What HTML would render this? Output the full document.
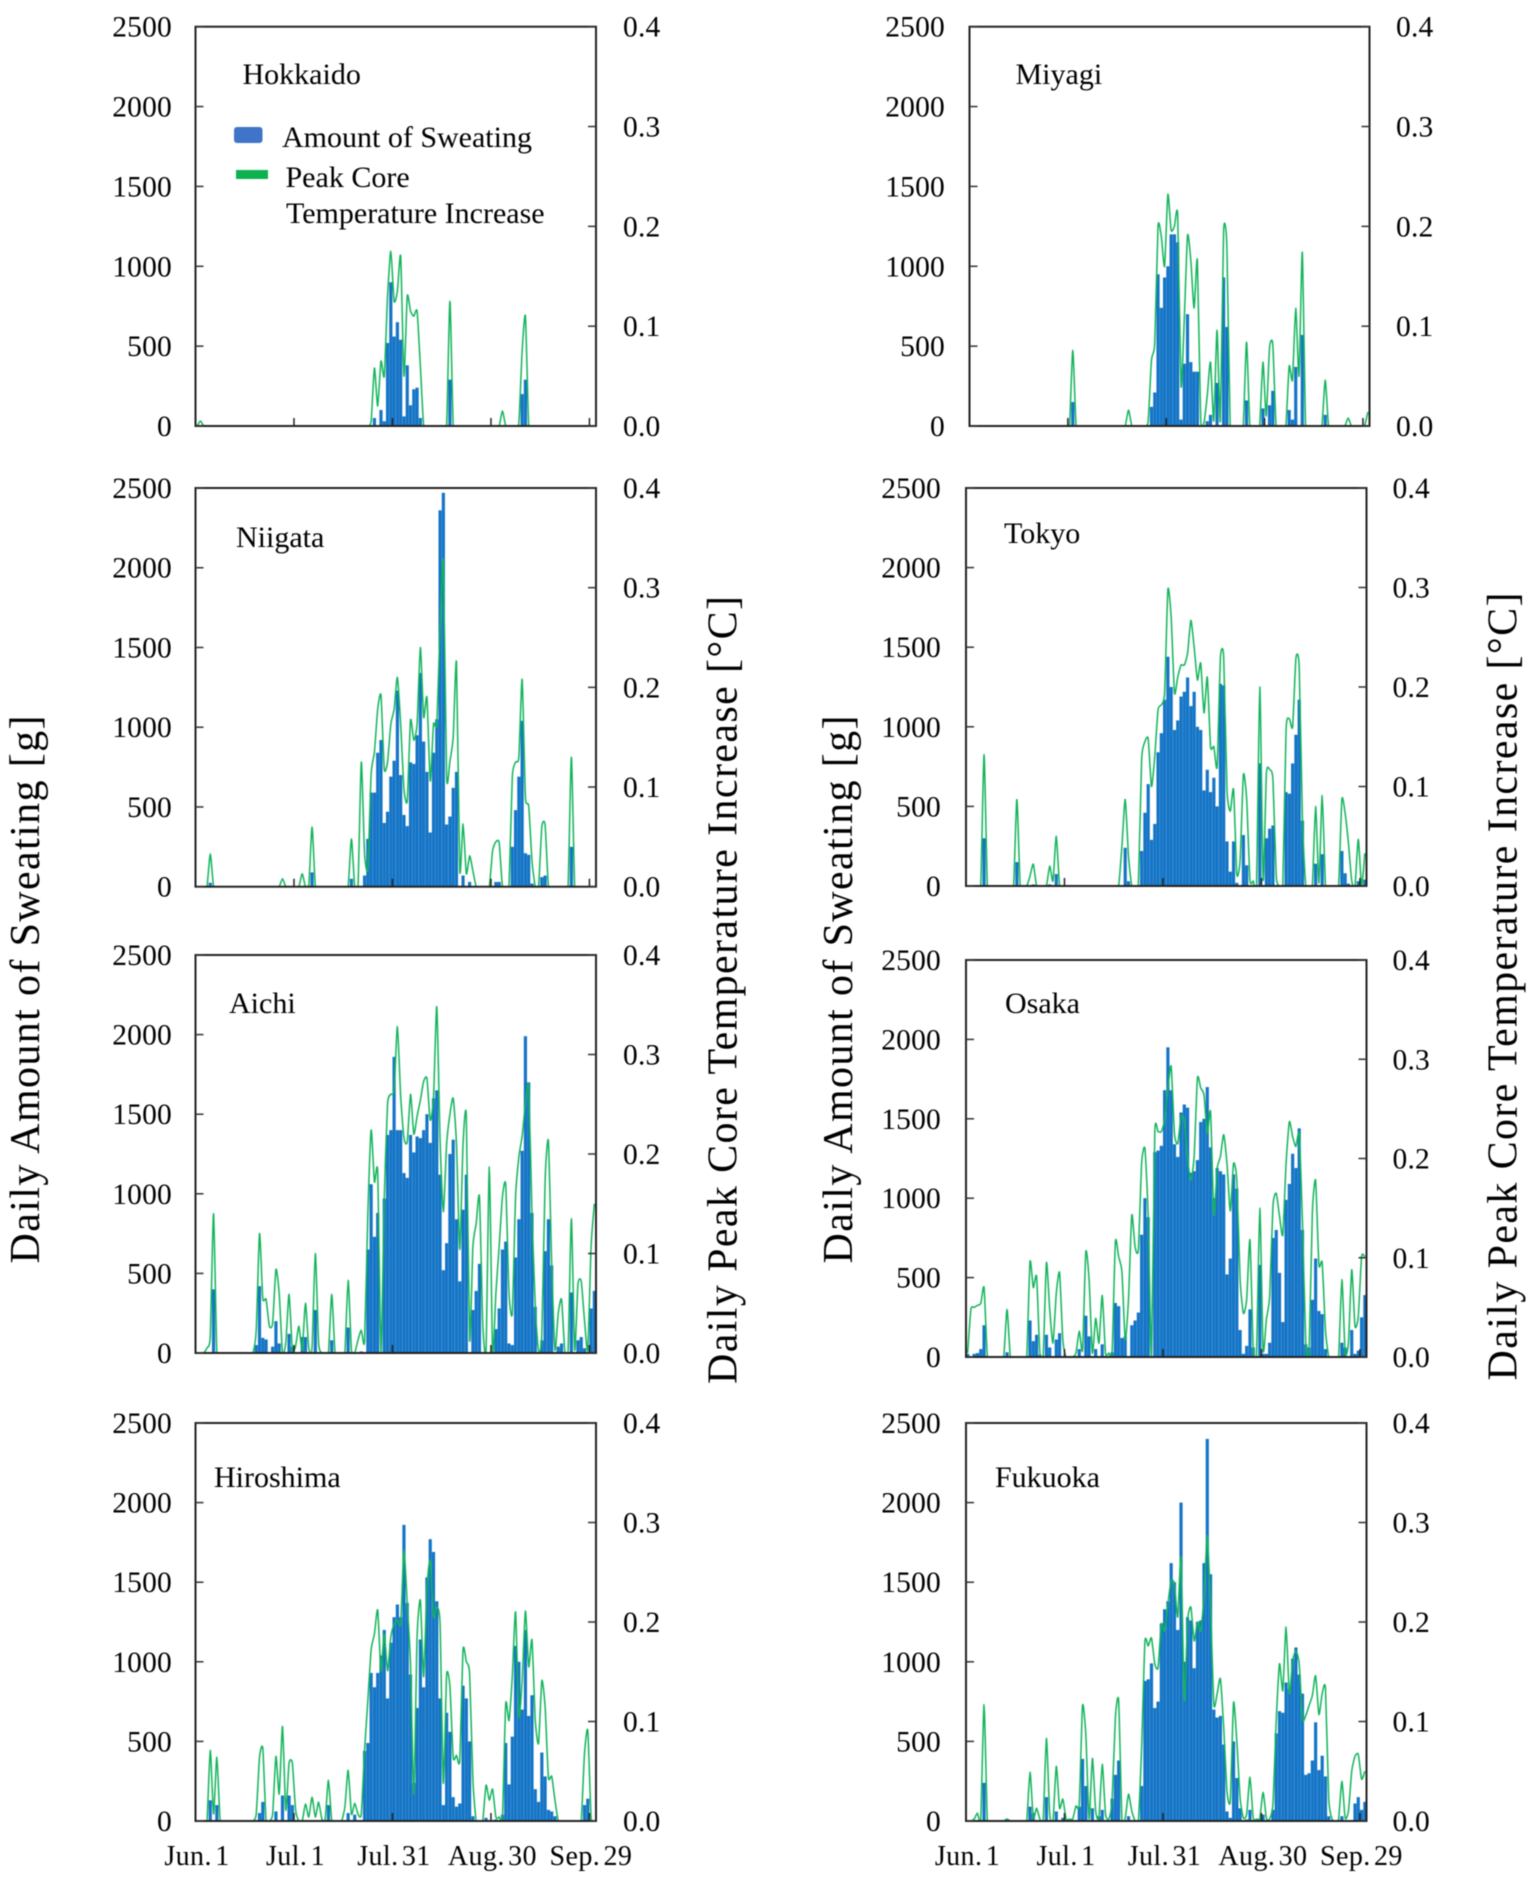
<!DOCTYPE html>
<html lang="en">
<head>
<meta charset="utf-8">
<title>Daily Amount of Sweating and Peak Core Temperature Increase</title>
<style>
html,body{margin:0;padding:0;background:#fff;}
body{width:1535px;height:1885px;overflow:hidden;}
svg{display:block;font-family:"Liberation Serif",serif;fill:#000;filter:blur(0.45px);}
.tick{font-size:29.5px;letter-spacing:0.2px;}
.date{font-size:28px;letter-spacing:0.4px;word-spacing:-4px;}
.place{font-size:30px;}
.title{font-size:42px;}
</style>
</head>
<body>
<svg id="chart" width="1535" height="1885" viewBox="0 0 1535 1885" xmlns="http://www.w3.org/2000/svg">
  <text class="title" transform="translate(39,989.5) rotate(-90)" text-anchor="middle" textLength="548">Daily Amount of Sweating [g]</text>
  <text class="title" transform="translate(736.5,990) rotate(-90)" text-anchor="middle" textLength="788">Daily Peak Core Temperature Increase [°C]</text>
  <text class="title" transform="translate(852,989.5) rotate(-90)" text-anchor="middle" textLength="548">Daily Amount of Sweating [g]</text>
  <text class="title" transform="translate(1516.5,986.5) rotate(-90)" text-anchor="middle" textLength="788">Daily Peak Core Temperature Increase [°C]</text>
  <g id="panels"></g>
  <g id="legend">
    <rect x="234" y="127" width="28.5" height="16" rx="3" fill="#3f74c8"/>
    <rect x="236" y="170" width="32" height="9" fill="#0db14f"/>
    <text class="place" x="282" y="147">Amount of Sweating</text>
    <text class="place" x="285.5" y="187">Peak Core</text>
    <text class="place" x="286" y="223">Temperature Increase</text>
  </g>
</svg>
<script>
const sweatTicks = [0,500,1000,1500,2000,2500];
const tempTicks = ["0.0","0.1","0.2","0.3","0.4"];
const dateDays = [0,30,60,90,120];
const dateLabels = ["Jun. 1","Jul. 1","Jul. 31","Aug. 30","Sep. 29"];

const hokkaidoSweat = [
0,0,0,0,0,0,0,0,0,0,
0,0,0,0,0,0,0,0,0,0,
0,0,0,0,0,0,0,0,0,0,
0,0,0,0,0,0,0,0,0,0,
0,0,0,0,0,0,0,0,0,0,
0,0,0,0,50,0,100,30,520,900,
560,650,540,60,380,130,230,240,50,0,
0,0,0,0,0,0,0,290,0,0,
0,0,0,0,0,0,0,0,0,0,
0,0,0,0,0,0,0,0,0,200,
290,0,0,0,0,0,0,0,0,0,
0,0,0,0,0,0,0,0,0,0,
0,0];
const hokkaidoTemp = [
0,.005,0,0,0,0,0,0,0,0,
0,0,0,0,0,0,0,0,0,0,
0,0,0,0,0,0,0,0,0,0,
0,0,0,0,0,0,0,0,0,0,
0,0,0,0,0,0,0,0,0,0,
0,0,0,.005,.058,.02,.065,.05,.13,.175,
.125,.135,.17,.05,.13,.115,.11,.115,.06,0,
0,0,0,0,0,0,0,.125,0,0,
0,0,0,0,0,0,0,0,0,0,
0,0,0,.015,0,0,0,0,.003,.075,
.11,0,0,0,0,0,0,0,0,0,
0,0,0,0,0,0,0,0,0,0,
0,0];

const miyagiSweat = [
0,0,0,0,0,0,0,0,0,0,
0,0,0,0,0,0,0,0,0,0,
0,0,0,0,0,0,0,0,0,0,
0,150,0,0,0,0,0,0,0,0,
0,0,0,0,0,0,0,0,0,0,
0,0,0,0,0,120,210,950,740,930,
1000,1200,1200,1150,40,390,700,400,340,340,
0,0,30,70,0,270,0,930,620,0,
0,0,0,0,160,0,0,0,0,110,
0,130,220,0,0,0,0,100,40,370,
0,570,0,0,0,0,0,0,70,0,
0,0,0,0,0,0,0,0,0,0,
0,0];
const miyagiTemp = [
0,0,0,0,0,0,0,0,0,0,
0,0,0,0,0,0,0,0,0,0,
0,0,0,0,0,0,0,0,0,0,
0,.076,0,0,0,0,0,0,0,0,
0,0,0,0,0,0,0,0,.016,0,
0,0,0,0,.005,.066,.083,.2,.19,.16,
.232,.196,.2,.211,.04,.106,.191,.166,.118,.166,
.008,.003,.03,.064,.005,.096,.005,.195,.18,0,
0,0,0,0,.084,0,0,0,0,.064,
.01,.078,.082,0,0,0,0,.06,.046,.118,
.05,.174,0,0,0,0,0,0,.046,0,
0,0,0,0,0,.008,0,0,0,0,
0,.014];

const niigataSweat = [
0,0,0,0,25,0,0,0,0,0,
0,0,0,0,0,0,0,0,0,0,
0,0,0,0,0,0,0,0,0,0,
0,0,0,0,0,90,0,0,0,0,
0,0,0,0,0,0,0,50,0,0,
0,70,300,590,590,840,920,400,470,690,
790,1230,700,450,380,780,770,950,1340,910,
720,340,840,1050,2360,2470,390,440,620,720,
0,70,0,30,0,0,0,0,0,0,
0,30,30,0,0,0,250,480,690,1040,
210,200,20,0,0,60,70,0,0,0,
0,0,0,0,250,0,0,0,0,0,
0,0];
const niigataTemp = [
0,0,0,0,.033,0,0,0,0,0,
0,0,0,0,0,0,0,0,0,0,
0,0,0,0,0,0,.008,0,0,0,
0,0,.013,0,0,.06,0,0,0,0,
0,0,0,0,0,0,0,.048,0,0,
.125,.033,.018,.113,.135,.178,.192,.118,.125,.163,
.178,.21,.163,.098,.086,.167,.147,.163,.24,.17,
.19,.106,.163,.163,.26,.327,.11,.126,.15,.225,
.016,.063,.013,.031,.016,0,0,0,0,0,
.036,.045,.044,0,0,0,.11,.125,.13,.208,
.09,.081,.026,0,0,.06,.062,0,0,0,
0,0,0,0,.13,0,0,0,0,0,
0,0];

const tokyoSweat = [
0,0,0,0,0,300,0,0,0,0,
0,0,0,0,0,150,0,0,0,0,
10,0,0,0,0,10,0,75,0,0,
0,0,0,0,0,0,0,0,0,0,
0,0,0,0,0,0,0,0,240,30,
0,0,0,220,460,640,290,390,840,960,
1170,1440,1250,980,1040,1190,1220,1310,1130,1220,
1000,980,600,730,590,680,500,1270,1260,280,
90,280,20,0,320,130,0,0,0,770,
0,300,360,380,0,0,0,590,580,770,
950,1170,410,0,0,0,140,0,200,0,
0,0,0,0,220,80,15,0,0,30,
0,40];
const tokyoTemp = [
0,0,0,0,0,.132,0,0,0,0,
0,0,0,0,0,.087,0,0,0,.01,
.022,0,0,0,0,.02,.005,.05,0,0,
0,0,0,0,0,0,0,0,0,0,
0,0,0,0,0,0,0,.04,.087,.03,
0,0,0,.127,.145,.148,.1,.13,.177,.182,
.194,.298,.27,.194,.21,.222,.222,.234,.267,.24,
.207,.224,.174,.21,.14,.14,.12,.229,.23,.097,
.075,.097,.012,.026,.112,.087,.006,.005,.001,.2,
.006,.113,.117,.107,.01,0,0,.157,.168,.16,
.229,.22,.065,0,0,0,.08,.003,.091,0,
0,0,0,0,.087,.073,.043,.005,0,.047,
0,.033];

const aichiSweat = [
0,0,0,0,0,400,0,0,0,0,
0,0,0,0,0,0,0,0,50,420,
95,85,0,40,200,60,0,0,120,40,
0,0,100,100,0,0,270,0,0,0,
0,80,0,0,0,0,160,0,0,0,
10,0,650,1060,730,880,0,970,1370,1400,
1860,1400,1400,1130,1100,1370,1260,1360,1350,1400,
1500,1320,1600,1650,1120,520,690,1250,1340,840,
450,900,1120,0,270,390,560,0,0,0,
0,150,280,650,700,60,50,600,840,1270,
1990,1700,880,290,0,80,640,840,550,0,
40,60,0,0,380,0,80,100,30,0,
280,390];
const aichiTemp = [
0,0,0,.005,.017,.14,0,0,0,0,
0,0,0,0,0,0,0,0,.023,.12,
.055,.054,.027,.03,.084,.06,0,.01,.059,.003,
.007,.027,.003,.05,.005,.005,.1,.01,0,0,
0,.059,0,0,0,0,.073,.003,0,.013,
.023,.012,.14,.224,.172,.182,0,.155,.25,.26,
.264,.328,.258,.216,.212,.26,.22,.238,.254,.273,
.276,.234,.256,.348,.214,.142,.21,.24,.256,.21,
.104,.21,.238,.013,.107,.13,.157,.03,.002,.187,
0,.06,.107,.157,.169,.06,.04,.157,.197,.218,
.25,.268,.14,.047,.002,.018,.174,.213,.09,.003,
.04,.054,.002,.002,.135,.003,.069,.072,.033,.003,
.107,.15];

const osakaSweat = [
20,0,20,25,50,200,0,0,0,0,
0,0,30,0,0,0,0,0,0,230,
100,140,15,0,140,60,0,110,150,0,
0,0,0,0,50,0,260,130,0,50,
0,80,0,0,30,340,320,120,130,0,
200,230,280,770,1000,880,0,1290,1300,1330,
1680,1950,1680,1340,1260,1540,1590,1570,1160,1170,
1240,1480,1500,1700,1320,1000,1190,1170,1150,520,
620,1150,1060,170,20,70,300,60,0,580,
20,20,90,750,800,530,220,990,1090,1280,
1190,1440,800,80,60,360,620,290,270,50,
0,0,0,0,90,60,0,170,20,40,
250,390];
const osakaTemp = [
.004,.048,.05,.052,.054,.07,0,0,0,0,
0,0,.048,0,0,0,0,0,0,.096,
.07,.081,.004,0,.095,.048,.014,.064,.085,.017,
0,0,0,.004,.026,.007,.106,.078,.004,.039,
.014,.062,.004,.004,.004,.116,.101,.086,.017,.058,
.143,.111,.108,.195,.21,.142,0,.225,.227,.227,
.239,.27,.293,.225,.215,.242,.239,.199,.178,.202,
.281,.271,.264,.225,.247,.143,.19,.202,.224,.195,
.147,.195,.178,.078,.044,.058,.118,.007,.004,.15,
.007,.038,.061,.152,.165,.142,.123,.195,.237,.222,
.212,.225,.135,.014,.004,.145,.178,.093,.095,.027,
0,0,0,0,.078,.004,.014,.088,.031,.041,
.101,.101];

const hiroshimaSweat = [
0,0,0,0,130,0,100,0,0,0,
0,0,0,0,0,0,0,0,0,50,
120,0,0,0,60,0,160,0,160,100,
0,0,0,0,0,0,0,0,0,0,
100,0,0,0,0,0,50,0,40,0,
0,440,490,930,840,930,1040,1200,770,1120,
1280,1360,1280,1860,1370,920,240,710,1140,840,
1530,1770,1690,1380,770,100,680,560,150,90,
110,850,770,500,30,0,0,0,20,0,
0,10,0,40,490,230,530,1100,1000,700,
1200,660,790,200,120,430,280,70,60,30,
0,0,0,0,0,0,0,0,100,140,
0,0];
const hiroshimaTemp = [
0,0,0,0,.071,.007,.064,0,0,0,
0,0,0,0,0,0,0,0,.007,.064,
.073,0,0,.007,.065,.027,.095,.011,.058,.058,
.011,0,0,.017,.004,.024,.004,.019,.002,.002,
.041,0,0,0,0,.014,.051,.007,.018,.007,
.007,.071,.121,.172,.188,.212,.151,.188,.151,.185,
.198,.202,.198,.272,.218,.158,.027,.185,.222,.145,
.235,.262,.205,.215,.198,.038,.147,.135,.064,.066,
.061,.172,.16,.148,.041,0,0,0,.036,.021,
.032,.004,.004,.004,.118,.101,.145,.21,.105,.141,
.211,.155,.182,.101,.078,.141,.115,.044,.045,.021,
0,0,0,0,0,0,0,0,.068,.091,
.004,0];

const fukuokaSweat = [
0,0,0,0,0,240,0,0,0,0,
0,0,0,0,0,0,0,0,0,90,
50,0,0,0,150,0,0,60,0,20,
0,0,0,0,90,390,220,0,80,0,
30,70,0,0,140,290,380,0,0,30,
0,0,0,220,880,890,990,710,750,1240,
1330,1380,1620,1500,1200,2000,1000,1280,1260,960,
1250,1260,1620,2400,1550,700,650,660,480,60,
20,500,270,80,0,10,70,0,0,10,
40,0,0,70,550,690,680,870,830,1020,
1090,920,800,290,300,380,620,320,410,280,
30,0,0,0,30,0,0,0,110,150,
70,120];
const fukuokaTemp = [
0,0,.002,.008,.002,.117,0,0,0,0,
0,0,.002,0,0,0,0,0,0,.049,
.003,.013,.002,0,.083,.007,0,.055,.013,.022,
.002,.002,.002,.015,.017,.116,.087,.002,.063,.01,
.003,.057,.007,.002,.02,.104,.121,.002,.003,.027,
.01,0,0,.074,.18,.176,.184,.158,.154,.198,
.191,.218,.242,.238,.205,.265,.121,.201,.215,.181,
.2,.191,.225,.287,.215,.117,.128,.143,.094,.03,
.02,.119,.08,.023,.003,.007,.044,.003,.002,.003,
.029,.003,.002,.017,.101,.158,.131,.195,.128,.161,
.171,.158,.102,.106,.116,.126,.146,.107,.128,.133,
.022,.002,0,.002,.04,.003,.01,.05,.065,.067,
.042,.05];

const panels = [
  {key:"hokkaido",name:"Hokkaido",sweat:hokkaidoSweat,temp:hokkaidoTemp,L:195.5,R:596,T:26.7,B:426,lx:172,rx:623,tx:242.5,ty:84,dates:false},
  {key:"miyagi",name:"Miyagi",sweat:miyagiSweat,temp:miyagiTemp,L:969.5,R:1369.5,T:26.7,B:426,lx:945,rx:1396,tx:1015.5,ty:84,dates:false},
  {key:"niigata",name:"Niigata",sweat:niigataSweat,temp:niigataTemp,L:195.5,R:596,T:488,B:886.7,lx:172,rx:623,tx:236,ty:547,dates:false},
  {key:"tokyo",name:"Tokyo",sweat:tokyoSweat,temp:tokyoTemp,L:966,R:1366.5,T:488,B:886,lx:941,rx:1392.5,tx:1004,ty:543,dates:false},
  {key:"aichi",name:"Aichi",sweat:aichiSweat,temp:aichiTemp,L:195.5,R:596,T:955,B:1353,lx:172,rx:623,tx:229,ty:1013,dates:false},
  {key:"osaka",name:"Osaka",sweat:osakaSweat,temp:osakaTemp,L:966,R:1366.5,T:960,B:1357,lx:941,rx:1392.5,tx:1005,ty:1013,dates:false},
  {key:"hiroshima",name:"Hiroshima",sweat:hiroshimaSweat,temp:hiroshimaTemp,L:195.5,R:596,T:1423,B:1821,lx:172,rx:623,tx:214,ty:1487,dates:true},
  {key:"fukuoka",name:"Fukuoka",sweat:fukuokaSweat,temp:fukuokaTemp,L:966,R:1366.5,T:1423,B:1821,lx:941,rx:1392.5,tx:995,ty:1487,dates:true}
];

const NS = "http://www.w3.org/2000/svg";
const DAYS = 122;
const SWEAT_MAX = 2500;
const TEMP_MAX = 0.4;

function make(tag, attrs, parent, text) {
  const el = document.createElementNS(NS, tag);
  for (const k in attrs) el.setAttribute(k, attrs[k]);
  if (text !== undefined) el.textContent = text;
  parent.appendChild(el);
  return el;
}

function smoothPath(pts) {
  let d = "M" + pts[0][0].toFixed(2) + " " + pts[0][1].toFixed(2);
  for (let i = 0; i < pts.length - 1; i++) {
    const p0 = pts[Math.max(0, i - 1)], p1 = pts[i], p2 = pts[i + 1], p3 = pts[Math.min(pts.length - 1, i + 2)];
    const k = 0.1;
    const c1x = p1[0] + (p2[0] - p0[0]) * k, c1y = p1[1] + (p2[1] - p0[1]) * k;
    const c2x = p2[0] - (p3[0] - p1[0]) * k, c2y = p2[1] - (p3[1] - p1[1]) * k;
    d += "C" + c1x.toFixed(2) + " " + c1y.toFixed(2) + " " + c2x.toFixed(2) + " " + c2y.toFixed(2) + " " + p2[0].toFixed(2) + " " + p2[1].toFixed(2);
  }
  return d;
}

const root = document.getElementById("panels");

panels.forEach(function (p) {
  const xAxis = function (day) { return p.L + (p.R - p.L) * day / DAYS; };
  const ySweat = function (v) { return p.B - (p.B - p.T) * v / SWEAT_MAX; };
  const yTemp = function (v) { return p.B - (p.B - p.T) * v / TEMP_MAX; };
  const barW = (p.R - p.L) / DAYS;

  const g = make("g", {}, root);
  
  

  const clipId = "clip-" + p.key;
  const defs = make("defs", {}, g);
  const clip = make("clipPath", {id: clipId}, defs);
  make("rect", {x: p.L, y: p.T - 1, width: p.R - p.L, height: p.B - p.T + 1}, clip);

  const bars = make("g", {"clip-path": "url(#" + clipId + ")"}, g);
  
  
  p.sweat.forEach(function (v, i) {
    const y = ySweat(v);
    const r = make("rect", {x: (xAxis(i) + 0.05).toFixed(2), y: y.toFixed(2), width: (barW - 0.1).toFixed(2), height: (p.B - y).toFixed(2), fill: "#1474c6"}, bars);
    
    
  });

  const pts = p.temp.map(function (v, i) { return [xAxis(i + 0.5), yTemp(v)]; });
  const line = make("path", {d: smoothPath(pts), fill: "none", stroke: "#12b45a", "stroke-width": "1.5", "stroke-linejoin": "round", "clip-path": "url(#" + clipId + ")"}, g);
  
  

  const frame = make("rect", {x: p.L, y: p.T, width: p.R - p.L, height: p.B - p.T, fill: "none", stroke: "#222", "stroke-width": "2"}, g);
  
  

  sweatTicks.forEach(function (t) {
    const y = ySweat(t);
    const tk = make("line", {x1: p.L, x2: p.L + 8, y1: y, y2: y, stroke: "#333", "stroke-width": "1.5"}, g);
    
    
    const lb = make("text", {class: "tick", x: p.lx, y: y + 10, "text-anchor": "end"}, g, String(t));
    
    
  });

  tempTicks.forEach(function (t) {
    const y = yTemp(parseFloat(t));
    const tk = make("line", {x1: p.R - 8, x2: p.R, y1: y, y2: y, stroke: "#333", "stroke-width": "1.5"}, g);
    
    
    const lb = make("text", {class: "tick", x: p.rx, y: y + 10}, g, t);
    
    
  });

  dateDays.forEach(function (d, i) {
    const x = xAxis(d);
    const tk = make("line", {x1: x, x2: x, y1: p.B - 8, y2: p.B, stroke: "#222", "stroke-width": "1.5"}, g);
    
    
    if (p.dates) {
      const lb = make("text", {class: "date", x: x + 1.5, y: p.B + 44, "text-anchor": "middle"}, g, dateLabels[i]);
      
      
    }
  });

  const title = make("text", {class: "place", x: p.tx, y: p.ty}, g, p.name);
  
  
});
</script>
</body>
</html>
